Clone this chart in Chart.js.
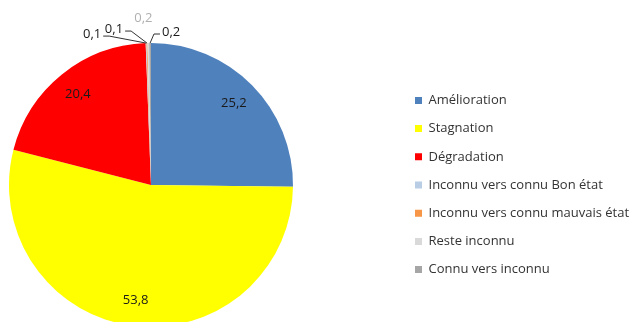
<!DOCTYPE html>
<html lang="fr">
<head>
<meta charset="utf-8">
<script src="https://cdn.jsdelivr.net/npm/chart.js@4.4.1/dist/chart.umd.min.js"></script>
<style>
  html, body { margin: 0; padding: 0; background: #fff; overflow: hidden; }
  #wrap { position: relative; width: 636px; height: 370px; }
</style>
</head>
<body>
<div id="wrap"><canvas id="pieChart"></canvas></div>
<script>
const categories = ['Amélioration', 'Stagnation', 'Dégradation', 'Inconnu vers connu Bon état', 'Inconnu vers connu mauvais état', 'Reste inconnu', 'Connu vers inconnu'];
const shares = [25.2, 53.8, 20.4, 0.1, 0.1, 0.2, 0.2];
const sliceColors = ['#4f81bd', '#ffff00', '#ff0000', '#b9cde5', '#f79646', '#d9d9d9', '#a6a6a6'];

// thin slices get their value outside, shifted from the rim point
const callouts = {
  3: {dx: -54, dy: -9, color: '#1a1a1a'},
  4: {dx: -33, dy: -14, color: '#1a1a1a'},
  5: {dx: -5, dy: -25, color: '#b0b0b0', noLine: true},
  6: {dx: 21, dy: -11, color: '#1a1a1a'}
};

const PIE_RIGHT = 293;
const LEGEND_BOX_X = 415;

// legend keeps the whole right side, then its column is slid to the wanted x
const legendPlacement = {
  id: 'legendPlacement',
  beforeLayout(chart) {
    const legend = chart.legend;
    if (!legend || legend._wideFit) return;
    const fit = legend.fit;
    legend.fit = function () {
      fit.call(this);
      this.width = chart.width - PIE_RIGHT;
    };
    legend._wideFit = true;
  },
  afterLayout(chart) {
    const legend = chart.legend;
    const w = legend.width;
    legend.left = LEGEND_BOX_X - legend.options.labels.padding;
    legend.right = legend.left + w;
  }
};

const fmt = v => v.toFixed(1).replace('.', ',');

const sliceLabels = {
  id: 'sliceLabels',
  afterDatasetsDraw(chart) {
    const ctx = chart.ctx;
    const arcs = chart.getDatasetMeta(0).data;
    ctx.save();
    ctx.font = '13px "Open Sans"';
    ctx.textAlign = 'center';
    ctx.textBaseline = 'middle';
    ctx.lineWidth = 1;
    arcs.forEach((arc, i) => {
      const {x, y, startAngle, endAngle, outerRadius} = arc.getProps(['x', 'y', 'startAngle', 'endAngle', 'outerRadius'], true);
      const mid = (startAngle + endAngle) / 2;
      const text = fmt(shares[i]);
      const c = callouts[i];
      if (!c) {
        const r = outerRadius * 0.82;
        ctx.fillStyle = '#1a1a1a';
        ctx.fillText(text, x + Math.cos(mid) * r, y + Math.sin(mid) * r);
        return;
      }
      const rimX = x + Math.cos(mid) * outerRadius;
      const rimY = y + Math.sin(mid) * outerRadius;
      const lx = rimX + c.dx, ly = rimY + c.dy;
      ctx.fillStyle = c.color;
      ctx.fillText(text, lx, ly);
      if (c.noLine) return;
      const side = c.dx < 0 ? 1 : -1;
      const half = ctx.measureText(text).width / 2;
      const endX = lx + side * (half + 2), endY = ly + 2;
      ctx.strokeStyle = '#333';
      ctx.beginPath();
      ctx.moveTo(rimX, rimY);
      ctx.lineTo(endX + side * 6, endY);
      ctx.lineTo(endX, endY);
      ctx.stroke();
    });
    ctx.restore();
  }
};

new Chart(document.getElementById('pieChart'), {
  type: 'pie',
  data: {
    labels: categories,
    datasets: [{data: shares, backgroundColor: sliceColors, borderWidth: 0}]
  },
  options: {
    responsive: true,
    maintainAspectRatio: false,
    animation: false,
    events: [],
    layout: {padding: {left: 9, top: 43, bottom: 43, right: 0}},
    plugins: {
      legend: {
        position: 'right',
        labels: {boxWidth: 7, boxHeight: 7, padding: 15.2, color: '#333', font: {family: 'Open Sans', size: 13}}
      },
      tooltip: {enabled: false}
    }
  },
  plugins: [legendPlacement, sliceLabels]
});
</script>
</body>
</html>
